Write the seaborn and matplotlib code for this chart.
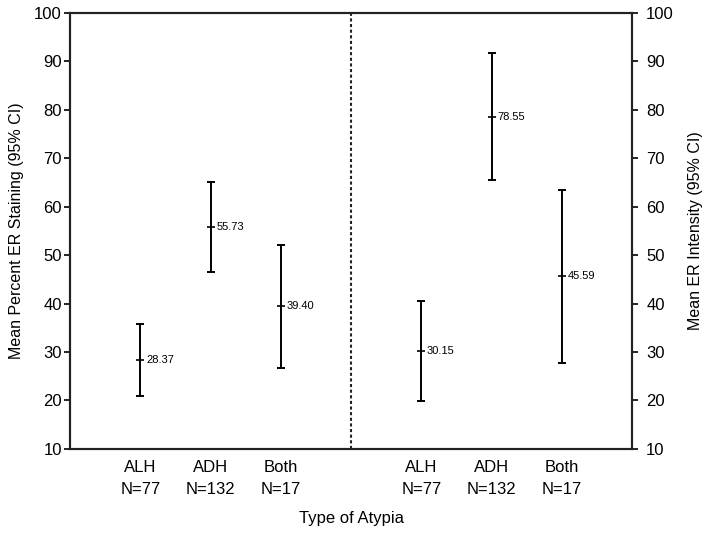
import numpy as np
import pandas as pd
import matplotlib
matplotlib.use("Agg")
import matplotlib.pyplot as plt
import seaborn as sns

# data
groups = ["ALH", "ADH", "Both"]
counts = [77, 132, 17]
staining_mean = [28.37, 55.73, 39.40]
staining_low = [20.9, 46.5, 26.7]
staining_high = [35.7, 65.0, 52.1]
intensity_mean = [30.15, 78.55, 45.59]
intensity_low = [19.8, 65.5, 27.7]
intensity_high = [40.5, 91.7, 63.5]

sns.set_style("ticks")
plt.rcParams["font.family"] = ["Liberation Sans", "DejaVu Sans"]
plt.rcParams["text.color"] = "black"
plt.rcParams["axes.labelcolor"] = "black"
plt.rcParams["xtick.color"] = "black"
plt.rcParams["ytick.color"] = "black"

left_pos = [1, 2, 3]
right_pos = [5, 6, 7]

df = pd.DataFrame({
    "pos": left_pos + right_pos,
    "mean": staining_mean + intensity_mean,
    "low": staining_low + intensity_low,
    "high": staining_high + intensity_high,
})

fig = plt.figure(figsize=(7.08, 5.35), dpi=100)
ax = fig.add_axes([0.099, 0.161, 0.794, 0.815])

# whiskers with caps
ax.errorbar(df["pos"], df["mean"],
            yerr=[df["mean"] - df["low"], df["high"] - df["mean"]],
            fmt="none", ecolor="black", elinewidth=1.4, capsize=3, capthick=1.4)
sns.scatterplot(data=df, x="pos", y="mean", marker="_", s=40, color="black",
                linewidth=1.2, ax=ax, zorder=3)
for p, m in zip(df["pos"], df["mean"]):
    ax.text(p + 0.08, m, f"{m:.2f}", fontsize=8, va="center", ha="left")

ax.axvline(4, color="#222222", linestyle=(0, (1.5, 1.2)), linewidth=1.5)

ax.set_xlim(0, 8)
ax.set_ylim(10, 100)
ax.set_yticks(range(10, 101, 10))
ax.set_xticks(left_pos + right_pos)
ax.set_xticklabels([f"{g}\nN={n}" for g, n in zip(groups, counts)] * 2,
                   fontsize=12, linespacing=1.6)
ax.tick_params(axis="x", length=0, pad=8)
ax.tick_params(axis="y", labelsize=12, length=4, width=1.2, pad=2)
ax.set_xlabel("Type of Atypia", fontsize=12, labelpad=10)
ax.set_ylabel("Mean Percent ER Staining (95% CI)", fontsize=11.5, labelpad=7)

ax2 = ax.twinx()
ax2.set_ylim(10, 100)
ax2.set_yticks(range(10, 101, 10))
ax2.tick_params(axis="y", labelsize=12, length=4, width=1.2, pad=6)
ax2.set_ylabel("Mean ER Intensity (95% CI)", fontsize=11.5, labelpad=10)

for a in (ax, ax2):
    for s in a.spines.values():
        s.set_linewidth(1.5)
        s.set_color("#222222")

fig.savefig("out.png", dpi=100)
